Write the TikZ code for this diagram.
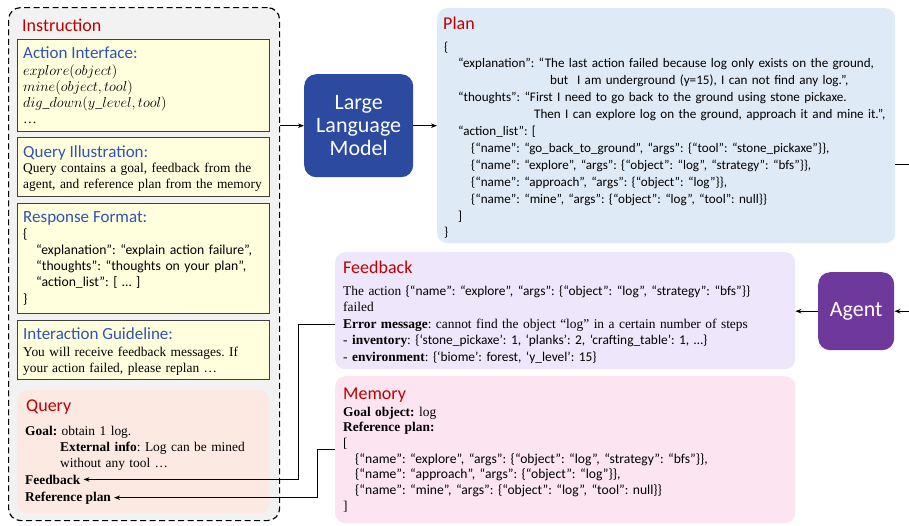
\documentclass[tikz,border=0pt]{standalone}
\usepackage{fontspec}
\setmainfont{Liberation Serif}
\newfontfamily\calfont{Carlito}
\usetikzlibrary{arrows.meta}
\definecolor{instfill}{RGB}{242,242,242}
\definecolor{yfill}{RGB}{255,255,222}
\definecolor{yborder}{RGB}{64,64,64}
\definecolor{titlered}{RGB}{192,0,0}
\definecolor{subblue}{RGB}{47,84,180}
\definecolor{queryfill}{RGB}{252,234,226}
\definecolor{llmfill}{RGB}{43,74,160}
\definecolor{planfill}{RGB}{222,234,246}
\definecolor{fbfill}{RGB}{238,230,250}
\definecolor{memfill}{RGB}{252,228,240}
\definecolor{agentfill}{RGB}{111,57,155}
\newcommand\bodyfs{\fontsize{13.4}{16}\selectfont}
\newcommand\jsonfs{\calfont\fontsize{13.1}{16.9}\selectfont}
\newcommand\memjson{\calfont\fontsize{13.6}{15.7}\selectfont}
\begin{document}
\frenchspacing
\begin{tikzpicture}[x=1pt,y=-1pt,
  panel/.style={anchor=north west, inner sep=0, rounded corners=10pt},
  ybox/.style={draw=yborder, line width=0.9pt, fill=yfill, anchor=north west, inner sep=0, minimum width=252pt},
  ttl/.style={anchor=base west, inner sep=0, text=titlered, font=\calfont\fontsize{18}{20}\selectfont},
  sub/.style={anchor=base west, inner sep=0, text=subblue, font=\calfont\fontsize{17}{20}\selectfont},
  txt/.style={anchor=base west, inner sep=0, align=left, font=\bodyfs},
  jtxt/.style={anchor=base west, inner sep=0, align=left, font=\jsonfs},
  model/.style={anchor=north west, inner sep=0, rounded corners=12pt, text=white, align=center, font=\calfont\fontsize{22}{23}\selectfont},
  conn/.style={line width=1pt, -{Stealth[length=6pt,width=4.5pt]}}]
\useasboundingbox (0,0) rectangle (909,525);

% ---------- Instruction panel ----------
\node[panel, draw=black, line width=1.2pt, dash pattern=on 6pt off 3.5pt, fill=instfill,
      rounded corners=12pt, minimum width=271pt, minimum height=513pt] (inst) at (8,7) {};
\node[ttl] (instT) at (22,31) {Instruction};

\node[ybox, minimum height=92pt] (ai) at (17,39) {};
\node[sub] (aiT) at (23,58) {Action Interface:};
\node[txt, text width=240pt, font=\fontsize{13.8}{16}\selectfont] (aiB) at (23,75)
  {$explore(object)$\\ $mine(object,tool)$\\ $dig\_down(y\_level,tool)$\\ …};

\node[ybox, minimum height=59pt] (qi) at (17,137) {};
\node[sub] (qiT) at (23,157) {Query Illustration:};
\node[txt, text width=248pt] (qiB) at (23,172)
  {Query contains a goal, feedback from the\\ agent, and reference plan from the memory};

\node[ybox, minimum height=110pt] (rf) at (17,203) {};
\node[sub] (rfT) at (23,222) {Response Format:};
\node[jtxt, text width=245pt, font=\calfont\fontsize{13.7}{16.3}\selectfont] (rfB) at (23,238)
  {\{\\
   \hspace*{13pt}“explanation”: “explain action failure”,\\
   \hspace*{13pt}“thoughts”: “thoughts on your plan”,\\
   \hspace*{13pt}“action\_list”: {[} … {]}\\
   \}};

\node[ybox, minimum height=59pt] (ig) at (17,320) {};
\node[sub] (igT) at (23,339) {Interaction Guideline:};
\node[txt, text width=248pt] (igB) at (23,356)
  {You will receive feedback messages. If\\ your action failed, please replan …};

\node[panel, fill=queryfill, minimum width=252pt, minimum height=123pt] (query) at (17,390) {};
\node[ttl] (queryT) at (26,411) {Query};
\node[txt, text width=240pt] (qB) at (25,435)
  {\textbf{Goal:} obtain 1 log.\\
   \hspace*{35pt}\textbf{External info}: Log can be mined\\
   \hspace*{35pt}without any tool …};
\node[anchor=base west, inner sep=3pt, font=\bodyfs\bfseries] (qfb) at (22,484) {Feedback};
\node[anchor=base west, inner sep=3pt, font=\bodyfs\bfseries] (qref) at (22,501) {Reference plan};

% ---------- LLM ----------
\node[model, fill=llmfill, minimum width=109pt, minimum height=103pt] (llm) at (304,74) {Large\\Language\\Model};

% ---------- Plan ----------
\node[panel, fill=planfill, minimum width=458pt, minimum height=235pt] (plan) at (437,8) {};
\node[ttl] (planT) at (443,29) {Plan};
\node[jtxt, text width=450pt] (planB) at (444,51)
  {\{\\
   \hspace*{14pt}“explanation”: “The last action failed because log only exists on the ground,\\
   \hspace*{106pt}but\ \ I am underground (y=15), I can not find any log.”,\\
   \hspace*{14pt}“thoughts”: “First I need to go back to the ground using stone pickaxe.\\
   \hspace*{90pt}Then I can explore log on the ground, approach it and mine it.”,\\
   \hspace*{14pt}“action\_list”: {[}\\
   \hspace*{27pt}\{“name”: “go\_back\_to\_ground”, “args”: \{“tool”: “stone\_pickaxe”\}\},\\
   \hspace*{27pt}\{“name”: “explore”, “args”: \{“object”: “log”, “strategy”: “bfs”\}\},\\
   \hspace*{27pt}\{“name”: “approach”, “args”: \{“object”: “log”\}\},\\
   \hspace*{27pt}\{“name”: “mine”, “args”: \{“object”: “log”, “tool”: null\}\}\\
   \hspace*{14pt}{]}\\
   \}};

% ---------- Feedback ----------
\node[panel, fill=fbfill, minimum width=460pt, minimum height=117pt] (fb) at (335,252) {};
\node[ttl] (fbT) at (343,273) {Feedback};
\node[txt, text width=452pt, font=\fontsize{13.4}{16.5}\selectfont] (fbB) at (343,295)
  {The action {\calfont \{“name”: “explore”, “args”: \{“object”: “log”, “strategy”: “bfs”\}\}}\\
   failed\\
   \textbf{Error message}: cannot find the object “log” in a certain number of steps\\
   - \textbf{inventory}: {\calfont\{‘stone\_pickaxe’: 1, ‘planks’: 2, ‘crafting\_table’: 1, …\}}\\
   - \textbf{environment}: {\calfont\{‘biome’: forest, ‘y\_level’: 15\}}};

% ---------- Memory ----------
\node[panel, fill=memfill, minimum width=460pt, minimum height=147pt] (mem) at (335,376) {};
\node[ttl] (memT) at (343,399) {Memory};
\node[txt, text width=452pt, font=\fontsize{13.4}{15.7}\selectfont] (memB) at (343,416)
  {\textbf{Goal object:} log\\
   \textbf{Reference plan:}\\
   {[}\\
   \hspace*{12pt}{\memjson \{“name”: “explore”, “args”: \{“object”: “log”, “strategy”: “bfs”\}\},}\\
   \hspace*{12pt}{\memjson \{“name”: “approach”, “args”: \{“object”: “log”\}\},}\\
   \hspace*{12pt}{\memjson \{“name”: “mine”, “args”: \{“object”: “log”, “tool”: null\}\}}\\
   {]}};

% ---------- Agent ----------
\node[model, fill=agentfill, minimum width=76pt, minimum height=78pt] (agent) at (818,272) {Agent};

% ---------- Connectors ----------
\draw[conn] (inst.east |- llm.west) -- (llm.west);
\draw[conn] (llm.east) -- (plan.west |- llm.east);
\coordinate (pturn) at (915,164);
\draw[conn] (plan.east |- pturn) -- (pturn) |- (agent.east);
\draw[conn] (agent.west) -- (fb.east |- agent.west);
\coordinate (fbturn) at (298,324);
\draw[conn] (fb.west |- fbturn) -- (fbturn) |- (qfb.east);
\coordinate (memturn) at (317,449);
\draw[conn] (mem.west |- memturn) -- (memturn) |- (qref.east);
\end{tikzpicture}
\end{document}
